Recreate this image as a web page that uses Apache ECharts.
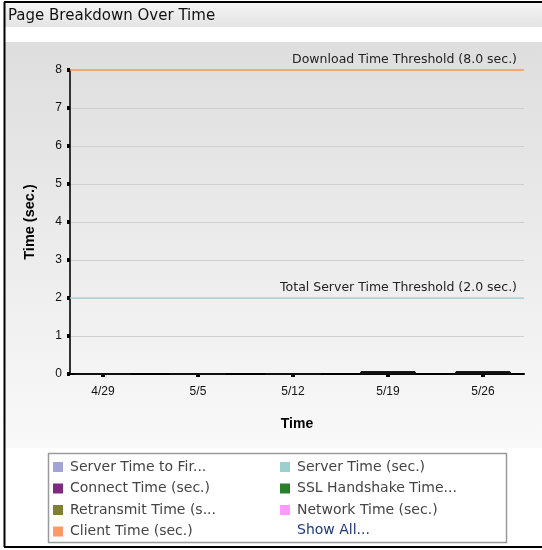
<!DOCTYPE html>
<html><head><meta charset="utf-8">
<script src="https://cdn.jsdelivr.net/npm/echarts@6/dist/echarts.min.js"></script>
<style>html,body{margin:0;padding:0;background:#fff}#c{width:542px;height:550px}</style>
</head><body><div id="c"></div>
<script>
const tickLabels = ['4/29', '5/5', '5/12', '5/19', '5/26'];
const categoryIndex = [0, 1, 2, 3, 4];
const seriesNames = ['Server Time to First Byte (sec.)', 'Server Time (sec.)', 'Connect Time (sec.)', 'SSL Handshake Time (sec.)', 'Retransmit Time (sec.)', 'Network Time (sec.)', 'Client Time (sec.)'];
const legendLabels = ['Server Time to Fir...', 'Server Time (sec.)', 'Connect Time (sec.)', 'SSL Handshake Time...', 'Retransmit Time (s...', 'Network Time (sec.)', 'Client Time (sec.)'];
const seriesColors = ['#a3a3d6', '#9ecfcf', '#7f2a7f', '#2a7f2a', '#808033', '#ff99ff', '#ff9966'];
const serverTTFB = [0, 0, 0, 0.01, 0.01];
const serverTime = [0, 0, 0, 0.01, 0.01];
const connectTime = [0, 0, 0, 0.01, 0.01];
const sslTime = [0, 0, 0, 0, 0];
const retransmitTime = [0, 0, 0, 0, 0];
const networkTime = [0, 0, 0, 0.02, 0.02];
const clientTime = [0, 0, 0, 0.02, 0.02];
const seriesValues = [serverTTFB, serverTime, connectTime, sslTime, retransmitTime, networkTime, clientTime];
const thresholds = [
  {value: 8, label: 'Download Time Threshold (8.0 sec.)', color: '#ff9955'},
  {value: 2, label: 'Total Server Time Threshold (2.0 sec.)', color: '#a8d4d4'}
];

const chart = echarts.init(document.getElementById('c'), null, {renderer: 'canvas'});
const txtFont = 'DejaVu Sans, Verdana, sans-serif';

const series = seriesNames.map((name, i) => ({
  name: name,
  type: 'bar',
  stack: 'total',
  xAxisIndex: 1,
  yAxisIndex: 1,
  barWidth: 55,
  itemStyle: {color: seriesColors[i], borderColor: '#111', borderWidth: 1},
  data: seriesValues[i],
  z: 5
}));
series.push({
  name: 'thresholds',
  type: 'line',
  xAxisIndex: 0,
  yAxisIndex: 0,
  data: [],
  markLine: {
    silent: true,
    symbol: 'none',
    data: thresholds.map(t => ({
      yAxis: t.value,
      lineStyle: {color: t.color, width: 1.5, type: 'solid'},
      label: {show: true, position: 'insideEndTop', formatter: t.label, color: '#222', fontFamily: txtFont, fontSize: 12.5, distance: [7, 4]}
    }))
  }
});

const legendCommon = {
  orient: 'vertical', top: 460, itemWidth: 10, itemHeight: 10, itemGap: 7.5, padding: 0, icon: 'rect', selectedMode: false,
  itemStyle: {borderWidth: 0},
  formatter: n => legendLabels[seriesNames.indexOf(n)],
  textStyle: {fontFamily: txtFont, fontSize: 14, color: '#444', padding: [0, 0, 0, 2]}
};

chart.setOption({
  animation: false,
  textStyle: {fontFamily: 'Liberation Sans, Arial, sans-serif'},
  graphic: [
    {type: 'rect', shape: {x: 5, y: 3, width: 537, height: 24}, style: {fill: new echarts.graphic.LinearGradient(0, 0, 0, 1, [{offset: 0, color: '#f4f4f4'}, {offset: 1, color: '#e4e4e4'}])}, z: -10},
    {type: 'rect', shape: {x: 5, y: 42, width: 537, height: 406}, style: {fill: new echarts.graphic.LinearGradient(0, 0, 0, 1, [{offset: 0, color: '#dedede'}, {offset: 1, color: '#f9f9f9'}])}, z: -10},
    {type: 'text', left: 8, top: 9, style: {text: 'Page Breakdown Over Time', font: '15px ' + txtFont, fill: '#111'}},
    {type: 'rect', shape: {x: 48.5, y: 453.5, width: 458, height: 89}, style: {fill: '#fff', stroke: '#9a9a9a', lineWidth: 1.5}, z: -5},
    {type: 'text', left: 297, top: 523, style: {text: 'Show All...', font: '14px ' + txtFont, fill: '#1f3a7a'}},
    {type: 'line', shape: {x1: 4.5, y1: 2, x2: 4.5, y2: 547}, style: {stroke: '#000', lineWidth: 2}, z: 10},
    {type: 'line', shape: {x1: 4, y1: 2, x2: 542, y2: 2}, style: {stroke: '#000', lineWidth: 2}, z: 10},
    {type: 'line', shape: {x1: 4, y1: 547, x2: 542, y2: 547}, style: {stroke: '#000', lineWidth: 2}, z: 10}
  ],
  legend: [
    Object.assign({}, legendCommon, {data: seriesNames.filter((n, i) => i % 2 === 0), left: 53}),
    Object.assign({}, legendCommon, {data: seriesNames.filter((n, i) => i % 2 === 1), left: 280})
  ],
  grid: [
    {left: 70, right: 18, top: 70, bottom: 176},
    {left: 55.5, right: 11.5, top: 70, bottom: 176}
  ],
  xAxis: [{
    type: 'value', gridIndex: 0, min: -0.347, max: 4.432,
    name: 'Time', nameLocation: 'middle', nameGap: 43,
    nameTextStyle: {fontWeight: 'bold', fontSize: 14, color: '#000'},
    axisLine: {onZero: false, lineStyle: {color: '#000', width: 2}},
    axisTick: {show: true, customValues: categoryIndex, length: 3, lineStyle: {color: '#000', width: 4}},
    axisLabel: {customValues: categoryIndex, formatter: v => tickLabels[Math.round(v)], color: '#111', fontSize: 12, margin: 12},
    splitLine: {show: false}
  }, {
    type: 'category', gridIndex: 1, data: tickLabels, boundaryGap: true,
    axisLine: {show: false}, axisTick: {show: false}, axisLabel: {show: false}, splitLine: {show: false}
  }],
  yAxis: [{
    type: 'value', gridIndex: 0, min: 0, max: 8, interval: 1,
    name: 'Time (sec.)', nameLocation: 'middle', nameGap: 33, nameRotate: 90,
    nameTextStyle: {fontWeight: 'bold', fontSize: 14.5, color: '#000'},
    axisLine: {show: true, onZero: false, lineStyle: {color: '#333', width: 2}},
    axisTick: {show: true, length: 3, lineStyle: {color: '#000', width: 4}},
    axisLabel: {color: '#111', fontSize: 12, margin: 8},
    splitLine: {show: true, lineStyle: {color: '#cfcfcf', width: 1}}
  }, {
    type: 'value', gridIndex: 1, min: 0, max: 8, interval: 1,
    axisLine: {show: false}, axisTick: {show: false}, axisLabel: {show: false}, splitLine: {show: false}
  }],
  series: series
});
</script></body></html>
